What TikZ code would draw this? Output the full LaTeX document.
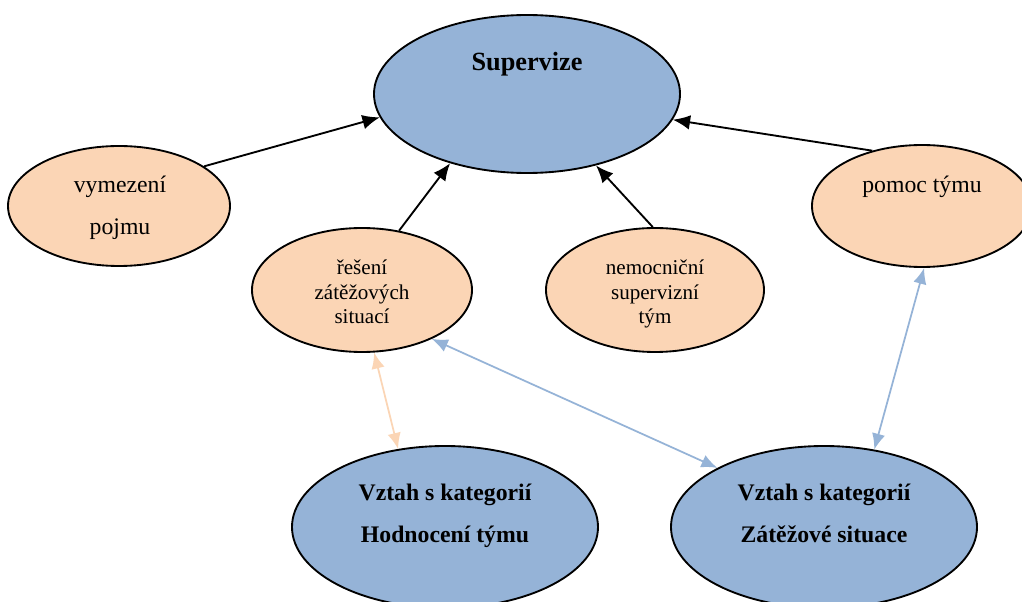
\documentclass[tikz,border=0pt]{standalone}
\usepackage{fontspec}
\setmainfont{Liberation Serif}
\usetikzlibrary{arrows.meta,shapes.geometric}
\definecolor{peach}{HTML}{FBD5B5}
\definecolor{steel}{HTML}{95B3D7}
\begin{document}
\begin{tikzpicture}[x=0.75pt,y=-0.75pt,
  oval/.style={ellipse, draw=black, line width=1.4pt, inner sep=0pt},
  blueoval/.style={oval, fill=steel},
  peachoval/.style={oval, fill=peach},
  txt/.style={anchor=base, align=center, inner sep=0pt},
  titletxt/.style={txt, font=\fontsize{19.7pt}{24pt}\selectfont\bfseries},
  midtxt/.style={txt, font=\fontsize{17.8pt}{31.5pt}\selectfont},
  smalltxt/.style={txt, font=\fontsize{15.8pt}{18.4pt}\selectfont},
  boldtxt/.style={txt, font=\fontsize{17.8pt}{31.2pt}\selectfont\bfseries},
  blackarrow/.style={draw=black, line width=1.4pt, -{Latex[length=13pt,width=11pt]}},
  bluearrow/.style={draw=steel, line width=1.3pt, {Latex[length=12pt,width=10pt]}-{Latex[length=12pt,width=10pt]}},
  peacharrow/.style={draw=peach, line width=1.3pt, {Latex[length=12pt,width=10pt]}-{Latex[length=12pt,width=10pt]}}
]
\clip (0,0) rectangle (1022,602);
\fill[white] (0,0) rectangle (1022,602);

% ellipses
\node[blueoval, minimum width=229.5pt, minimum height=118.5pt] (sup) at (527,94) {};
\node[peachoval, minimum width=166.5pt, minimum height=90pt] (vym) at (119,206) {};
\node[peachoval, minimum width=165pt, minimum height=93pt] (res) at (362,290) {};
\node[peachoval, minimum width=163.5pt, minimum height=93pt] (nem) at (655,290) {};
\node[peachoval, minimum width=165pt, minimum height=91.5pt] (pom) at (922,206) {};
\node[blueoval, minimum width=229.5pt, minimum height=121.5pt] (hod) at (445,527) {};
\node[blueoval, minimum width=229.5pt, minimum height=121.5pt] (zat) at (824,527) {};

% texts (base anchor = baseline of the last line)
\node[titletxt] (supt) at (527,71) {Supervize};
\node[midtxt] (vymt) at (120,235) {vymezení\\pojmu};
\node[midtxt] (pomt) at (922,193) {pomoc týmu};
\node[smalltxt] (rest) at (362,324) {řešení\\zátěžových\\situací};
\node[smalltxt] (nemt) at (655,324) {nemocniční\\supervizní\\tým};
\node[boldtxt] (hodt) at (445,542) {Vztah s kategorií\\Hodnocení týmu};
\node[boldtxt] (zatt) at (824,542) {Vztah s kategorií\\Zátěžové situace};

% black arrows
\draw[blackarrow] (vym.25.5) -- (sup.189);
\draw[blackarrow] (res.58.6) -- (sup.222.7);
\draw[blackarrow] (nem.92.9) -- (sup.314.6);
\draw[blackarrow] (pom.132.8) -- (sup.350.7);

% coloured double arrows
\draw[bluearrow] (res.325.1) -- (zat.151.9);
\draw[bluearrow] (pom.272.8) -- (zat.57.5);
\draw[peacharrow] (res.281.7) -- (hod.121);
\end{tikzpicture}
\end{document}
